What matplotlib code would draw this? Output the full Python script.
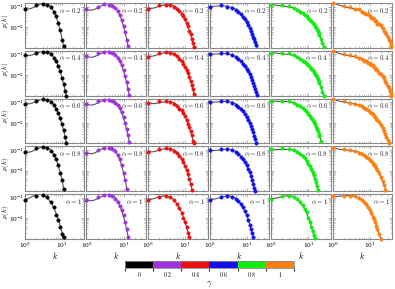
import numpy as np
import matplotlib
matplotlib.use("Agg")
import matplotlib.pyplot as plt
from matplotlib.colors import ListedColormap, BoundaryNorm
import matplotlib.cm as cm

plt.rcParams['mathtext.fontset'] = 'cm'
plt.rcParams['font.family'] = 'serif'
plt.rcParams['font.serif'] = ['DejaVu Serif']

# ---------------- settings of the panels ----------------
gammas = [0, 0.2, 0.4, 0.6, 0.8, 1]
gamma_labels = ['0', '0.2', '0.4', '0.6', '0.8', '1']
alphas = ['0.2', '0.4', '0.6', '0.8', '1']
colors = ['#000000', '#a030e0', '#ee1010', '#1010ee', '#10ee10', '#ff8010']

# ---------------- degree distributions p(k), one list per alpha row ----------------
k_g0 = [1, 2, 3, 4, 5, 6, 7, 8, 9, 10, 11, 12, 13]
p_g0 = [
    [0.078, 0.12, 0.135, 0.115, 0.09, 0.055, 0.035, 0.016, 0.0075, 0.0023, 0.0012],
    [0.09, 0.12, 0.135, 0.125, 0.1, 0.07, 0.045, 0.027, 0.015, 0.0075, 0.0035, 0.0017, 0.001],
    [0.085, 0.12, 0.135, 0.125, 0.1, 0.072, 0.048, 0.03, 0.017, 0.009, 0.0045, 0.002, 0.0011],
    [0.08, 0.12, 0.135, 0.12, 0.09, 0.06, 0.035, 0.018, 0.008, 0.0035, 0.0013],
    [0.078, 0.12, 0.135, 0.11, 0.065, 0.035, 0.014, 0.008, 0.004, 0.0018, 0.0012],
]

k_g1 = [1, 2, 3, 4, 5, 6, 7, 8, 9, 10, 11, 12, 13, 14]
p_g1 = [
    [0.073, 0.1, 0.13, 0.125, 0.105, 0.085, 0.06, 0.04, 0.022, 0.012, 0.006, 0.0025, 0.0012],
    [0.08, 0.11, 0.13, 0.13, 0.115, 0.095, 0.07, 0.048, 0.03, 0.017, 0.009, 0.0045, 0.002, 0.0011],
    [0.08, 0.11, 0.13, 0.13, 0.115, 0.095, 0.072, 0.05, 0.032, 0.019, 0.01, 0.005, 0.0025, 0.0012],
    [0.075, 0.105, 0.125, 0.13, 0.11, 0.085, 0.058, 0.035, 0.018, 0.008, 0.0035, 0.0013],
    [0.08, 0.11, 0.13, 0.13, 0.115, 0.09, 0.065, 0.042, 0.025, 0.014, 0.0065, 0.003, 0.0013],
]

k_g2 = [1, 2, 3, 4, 5, 6, 7, 8, 9, 10, 11, 12, 13, 14, 15, 16, 17]
p_g2 = [
    [0.075, 0.12, 0.125, 0.115, 0.095, 0.075, 0.06, 0.045, 0.034, 0.024, 0.016, 0.011, 0.0068, 0.0045, 0.0028, 0.0017, 0.0011],
    [0.075, 0.115, 0.125, 0.12, 0.1, 0.08, 0.062, 0.047, 0.035, 0.025, 0.017, 0.012, 0.008, 0.0052, 0.0033, 0.002, 0.0012],
    [0.086, 0.11, 0.11, 0.1, 0.08, 0.062, 0.049, 0.04, 0.03, 0.022, 0.014, 0.009, 0.0065, 0.004, 0.0025, 0.0013, 0.001],
    [0.08, 0.11, 0.12, 0.11, 0.09, 0.07, 0.052, 0.038, 0.026, 0.017, 0.011, 0.0065, 0.0038, 0.0022, 0.0012],
    [0.078, 0.11, 0.12, 0.11, 0.075, 0.05, 0.032, 0.019, 0.011, 0.0066, 0.0038, 0.002, 0.0012],
]

k_g3 = [1, 2, 3, 4, 5, 6, 7, 8, 9, 10, 11, 12, 13, 14, 15, 16, 17, 18, 19]
p_g3 = [
    [0.1, 0.12, 0.1, 0.087, 0.068, 0.053, 0.044, 0.032, 0.025, 0.018, 0.013, 0.0095, 0.0065, 0.0048, 0.0035, 0.0026, 0.0019, 0.0014],
    [0.1, 0.12, 0.11, 0.09, 0.072, 0.057, 0.045, 0.035, 0.027, 0.02, 0.015, 0.011, 0.008, 0.0058, 0.0042, 0.003, 0.0021, 0.0015, 0.0011],
    [0.1, 0.12, 0.11, 0.092, 0.075, 0.06, 0.047, 0.036, 0.027, 0.02, 0.014, 0.01, 0.0072, 0.005, 0.0035, 0.0024, 0.0016, 0.0011],
    [0.095, 0.115, 0.11, 0.095, 0.078, 0.062, 0.048, 0.036, 0.026, 0.018, 0.012, 0.0082, 0.0055, 0.0036, 0.0023, 0.0015, 0.001],
    [0.08, 0.11, 0.12, 0.11, 0.09, 0.07, 0.05, 0.034, 0.022, 0.014, 0.0085, 0.005, 0.003, 0.002, 0.0013],
]

k_g4 = [1, 2, 3, 4, 5, 6, 7, 8, 9, 10, 11, 12, 13, 14, 15, 16, 17, 18, 19, 20, 22, 24, 26]
p_g4 = [
    [0.12, 0.12, 0.105, 0.085, 0.068, 0.057, 0.049, 0.041, 0.034, 0.028, 0.022, 0.019, 0.016, 0.0135, 0.011, 0.0092, 0.0077, 0.0064, 0.0052, 0.0042, 0.0027, 0.0017, 0.0011],
    [0.12, 0.12, 0.11, 0.09, 0.072, 0.06, 0.05, 0.042, 0.035, 0.029, 0.024, 0.02, 0.017, 0.014, 0.0115, 0.0095, 0.0078, 0.0063, 0.005, 0.004, 0.0025, 0.0015, 0.001],
    [0.11, 0.12, 0.11, 0.092, 0.075, 0.062, 0.05, 0.04, 0.032, 0.026, 0.021, 0.017, 0.013, 0.0105, 0.0083, 0.0065, 0.005, 0.0038, 0.003, 0.0023, 0.0013],
    [0.11, 0.12, 0.11, 0.095, 0.078, 0.063, 0.05, 0.039, 0.03, 0.022, 0.016, 0.0115, 0.0082, 0.0058, 0.004, 0.0027, 0.0018, 0.0012],
    [0.09, 0.12, 0.12, 0.105, 0.085, 0.065, 0.045, 0.03, 0.02, 0.011, 0.0068, 0.0037, 0.0025, 0.0015, 0.0011],
]

k_g5 = [1, 2, 3, 4, 5, 6, 7, 8, 9, 10, 11, 12, 13, 14, 15, 16, 18, 20, 22, 24, 26, 28, 30, 32, 34, 36, 38]
p_g5 = [
    [0.15, 0.11, 0.092, 0.078, 0.072, 0.057, 0.046, 0.044, 0.042, 0.034, 0.028, 0.027, 0.026, 0.021, 0.019, 0.015, 0.014, 0.0125, 0.0095, 0.0068, 0.006, 0.0049, 0.0035, 0.0024, 0.0021, 0.0014, 0.0011],
    [0.14, 0.105, 0.09, 0.08, 0.068, 0.06, 0.05, 0.047, 0.04, 0.036, 0.03, 0.029, 0.024, 0.022, 0.018, 0.017, 0.013, 0.011, 0.0088, 0.007, 0.0052, 0.0043, 0.003, 0.0023, 0.0017, 0.0012, 0.001],
    [0.14, 0.11, 0.095, 0.082, 0.07, 0.062, 0.052, 0.045, 0.04, 0.034, 0.03, 0.026, 0.022, 0.019, 0.016, 0.014, 0.0105, 0.0078, 0.0058, 0.0042, 0.003, 0.0021, 0.0014, 0.001],
    [0.13, 0.11, 0.1, 0.088, 0.075, 0.065, 0.056, 0.047, 0.04, 0.034, 0.028, 0.023, 0.019, 0.016, 0.013, 0.011, 0.0075, 0.005, 0.0033, 0.002, 0.0012],
    [0.12, 0.125, 0.12, 0.115, 0.1, 0.08, 0.062, 0.048, 0.035, 0.025, 0.018, 0.012, 0.009, 0.0068, 0.0045, 0.003, 0.0017, 0.001],
]

k_cols = [k_g0, k_g1, k_g2, k_g3, k_g4, k_g5]
p_cols = [p_g0, p_g1, p_g2, p_g3, p_g4, p_g5]

fig = plt.figure(figsize=(3.95, 2.89), dpi=100)
gs = fig.add_gridspec(5, 6, left=0.063, right=0.993, top=0.99, bottom=0.173,
                      wspace=0.035, hspace=0.065)

for j in range(6):
    for i in range(5):
        ax = fig.add_subplot(gs[i, j])
        p = np.array(p_cols[j][i])
        k = np.array(k_cols[j][:len(p)])

        # smooth fit in log-log space drawn in gray
        lk, lp = np.log10(k), np.log10(p)
        c = np.polyfit(lk, lp, 3)
        xs = np.linspace(lk[0], lk[-1] + 0.03, 200)
        ax.plot(10**xs, 10**np.polyval(c, xs), color='#555555', lw=0.8, zorder=2)
        ax.plot(k, p, 'o', color=colors[j], ms=2.5, mew=0.3, mec=colors[j],
                zorder=3, clip_on=False)

        ax.set_xscale('log')
        ax.set_yscale('log')
        ax.set_xlim(1, 40)
        ax.set_ylim(1e-3, 0.15)
        ax.set_yticks([1e-1, 1e-2])
        ax.set_xticks([1, 10])
        ax.tick_params(which='both', direction='in', top=True, right=True,
                       color='#999999', labelsize=4.2, pad=1)
        ax.tick_params(axis='y', pad=0.5)
        ax.tick_params(which='major', length=2.5, width=0.5)
        ax.tick_params(which='minor', length=1.2, width=0.4)
        for s in ax.spines.values():
            s.set_color('#888888')
            s.set_linewidth(0.8)
        ax.text(0.96, 0.84, r'$\alpha = %s$' % alphas[i], transform=ax.transAxes,
                ha='right', va='center', fontsize=5, color='#222222')

        if j > 0:
            ax.tick_params(labelleft=False)
        else:
            ax.set_ylabel(r'$p(k)$', fontsize=5)
            ax.yaxis.set_label_coords(-0.235, 0.6)
        if i < 4:
            ax.tick_params(labelbottom=False)
        else:
            ax.set_xlabel(r'$k$', fontsize=6, labelpad=0.5)

# discrete colorbar for gamma
cax = fig.add_axes([0.316, 0.074, 0.428, 0.024])
cmap = ListedColormap(colors)
norm = BoundaryNorm([-0.1, 0.1, 0.3, 0.5, 0.7, 0.9, 1.1], cmap.N)
cb = fig.colorbar(cm.ScalarMappable(norm=norm, cmap=cmap), cax=cax,
                  orientation='horizontal', ticks=gammas)
cb.set_ticklabels([r'$%s$' % g for g in gamma_labels])
cb.ax.tick_params(labelsize=4.2, length=0, pad=2)
cb.outline.set_edgecolor('#888888')
cb.outline.set_linewidth(0.6)
cb.set_label(r'$\gamma$', fontsize=6, labelpad=0)

fig.savefig('out.png', dpi=100)
